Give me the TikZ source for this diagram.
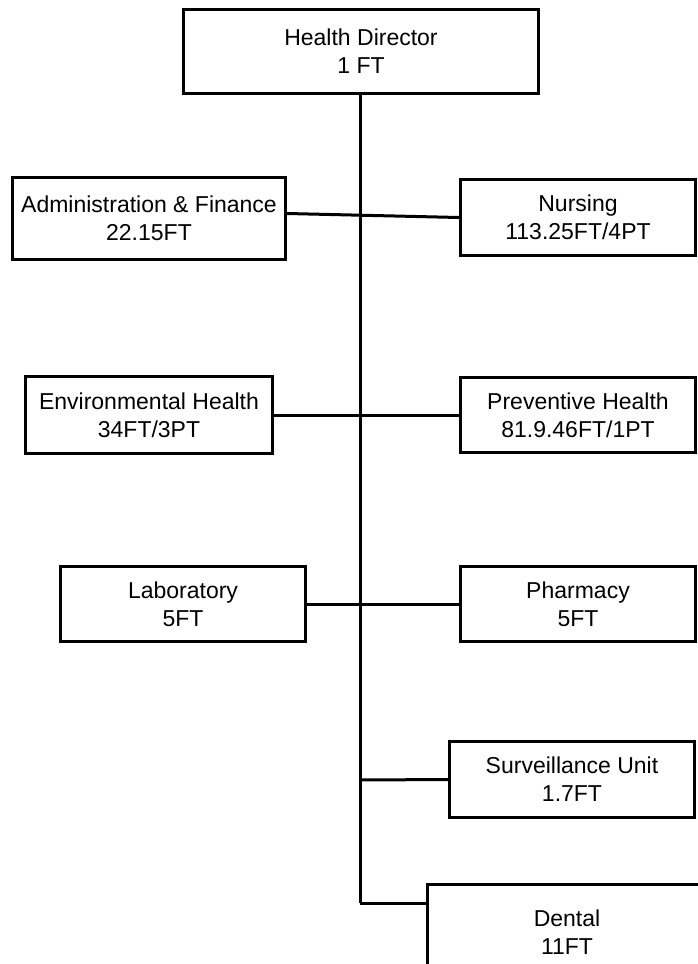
\documentclass[tikz,border=0pt]{standalone}
\usepackage{fontspec}
\setmainfont{Liberation Sans}

\begin{document}
\begin{tikzpicture}[x=1pt,y=-1pt,line width=3pt,
	unit/.style={draw,rectangle,align=center,inner sep=0pt,font=\fontsize{23}{28}\selectfont}]
				\clip (0,0) rectangle (698,964);
				\node[unit,minimum width=355,minimum height=84] (director) at (361,51.5){Health Director\\1 FT};
				\node[unit,minimum width=273,minimum height=82] (admin) at (149,218.5){Administration \& Finance\\22.15FT};
				\node[unit,minimum width=235,minimum height=76] (nursing) at (578,217.5){Nursing\\113.25FT/4PT};
				\node[unit,minimum width=247,minimum height=77] (envhealth) at (149,415){Environmental Health\\34FT/3PT};
				\node[unit,minimum width=235,minimum height=75] (prevhealth) at (578,415){Preventive Health\\81.9.46FT/1PT};
				\node[unit,minimum width=245,minimum height=75] (lab) at (183,604){Laboratory\\5FT};
				\node[unit,minimum width=235,minimum height=75] (pharmacy) at (578,604){Pharmacy\\5FT};
				\node[unit,minimum width=245,minimum height=76] (surveillance) at (572,779.5){Surveillance Unit\\1.7FT};
				\node[unit,minimum width=279,minimum height=95] (dental) at (567,932){Dental\\11FT};
				\coordinate (survjoin) at (360,780);
				\coordinate (dentjoin) at (360,903);
				\draw[-] (director.south -| dentjoin) to (dentjoin);
				\draw[-] (dentjoin) to (dentjoin -| dental.west);
				\draw[-] (survjoin) to (surveillance.west);
				\draw[-] ([yshift=5pt]admin.east) to (nursing.west);
				\draw[-] (envhealth.east) to (prevhealth.west);
				\draw[-] (lab.east) to (pharmacy.west);
			\end{tikzpicture}
\end{document}
